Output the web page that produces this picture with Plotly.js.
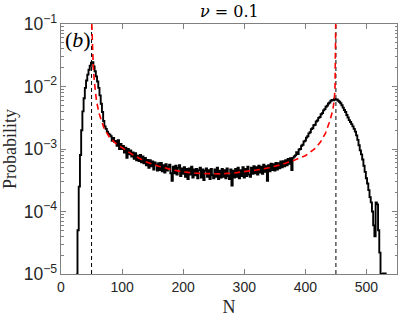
<!DOCTYPE html>
<html>
<head>
<meta charset="utf-8">
<script src="https://cdn.plot.ly/plotly-3.0.1.min.js"></script>
<style>html,body{margin:0;padding:0;background:#fff;}#chart{width:399px;height:319px;}</style>
</head>
<body>
<div id="chart"></div>
<script>
// Simulated histogram (black), N at odd values
const histN = [];
for (let n = 25; n <= 523; n += 2) histN.push(n);
histN.push(527, 533);
const histP = [
 1e-5, 5e-5, 2.5e-4, 8e-4, 2e-3, 4e-3, 6.5e-3, 9.5e-3, 1.25e-2, 1.55e-2,
 1.85e-2, 2.15e-2, 2.4e-2, 2.45e-2, 2.1e-2, 1.75e-2, 1.45e-2, 1.2e-2, 9.5e-3, 7.2e-3,
 5.3e-3, 3.9e-3, 2.8e-3, 2.3e-3, 2.1e-3, 1.9e-3, 1.75e-3, 1.7e-3,
 1.6e-3, 1.35e-3, 1.5e-3, 1.3e-3, 1.35e-3, 1.12e-3, 1.38e-3, 1.0e-3, 1.2e-3, 1.0e-3,
 1.12e-3, 8.8e-4, 1.05e-3, 7.2e-4, 1.0e-3, 8.2e-4, 9.5e-4, 7.6e-4, 8.8e-4, 7.0e-4,
 8.6e-4, 6.6e-4, 7.8e-4, 6.4e-4, 8.0e-4, 6.1e-4, 7.6e-4, 5.9e-4, 7.2e-4, 5.5e-4,
 6.7e-4, 5.0e-4, 6.6e-4, 5.3e-4, 6.3e-4, 4.7e-4, 6.1e-4, 5.6e-4, 4.5e-4, 5.9e-4,
 4.6e-4, 6.0e-4, 4.4e-4, 5.5e-4, 4.2e-4, 5.7e-4, 4.5e-4, 5.2e-4, 5.6e-4, 4.1e-4,
 3.1e-4, 5.2e-4, 4.1e-4, 5.4e-4, 3.9e-4, 5.0e-4, 5.5e-4, 3.7e-4, 4.9e-4, 4.0e-4,
 5.1e-4, 3.6e-4, 4.8e-4, 3.3e-4, 4.9e-4, 3.9e-4, 5.2e-4, 3.5e-4, 4.7e-4, 3.8e-4,
 4.8e-4, 3.4e-4, 4.6e-4, 5.0e-4, 3.5e-4, 4.7e-4, 3.2e-4, 4.5e-4, 4.9e-4, 3.6e-4,
 4.6e-4, 3.3e-4, 4.8e-4, 3.8e-4, 3.4e-4, 4.7e-4, 3.6e-4, 5.0e-4, 3.3e-4, 4.5e-4,
 3.5e-4, 4.8e-4, 3.6e-4, 4.6e-4, 3.4e-4, 4.9e-4, 3.7e-4, 3.3e-4, 4.7e-4, 2.6e-4,
 4.5e-4, 3.5e-4, 4.8e-4, 3.6e-4, 5.0e-4, 3.4e-4, 4.6e-4, 3.7e-4, 5.1e-4, 3.5e-4,
 4.8e-4, 3.7e-4, 5.2e-4, 3.9e-4, 3.6e-4, 5.0e-4, 4.0e-4, 5.3e-4, 4.1e-4, 5.1e-4,
 3.9e-4, 5.4e-4, 4.2e-4, 5.2e-4, 4.0e-4, 5.6e-4, 4.3e-4, 5.3e-4, 3.1e-4, 5.5e-4,
 4.4e-4, 5.8e-4, 4.6e-4, 5.7e-4, 4.5e-4, 6.0e-4, 4.7e-4, 5.9e-4, 4.9e-4, 6.3e-4,
 5.1e-4, 6.4e-4, 5.3e-4, 6.6e-4, 5.5e-4, 6.9e-4, 5.8e-4, 7.1e-4, 4.6e-4, 7.2e-4,
 7.6e-4, 7.9e-4, 8.9e-4, 8.3e-4, 9.8e-4, 1.0e-3, 1.13e-3, 1.17e-3, 1.32e-3, 1.36e-3,
 1.52e-3, 1.6e-3, 1.78e-3, 1.85e-3, 2.08e-3, 2.15e-3, 2.4e-3, 2.45e-3, 2.75e-3, 2.85e-3,
 3.15e-3, 3.25e-3, 3.6e-3, 3.75e-3, 4.15e-3, 4.35e-3, 4.75e-3, 4.95e-3, 5.35e-3, 5.55e-3,
 5.9e-3, 6.1e-3, 6.0e-3, 6.3e-3, 6.1e-3, 6.2e-3, 5.9e-3, 5.7e-3, 5.4e-3, 5.0e-3,
 4.6e-3, 4.2e-3, 3.9e-3, 3.5e-3, 3.2e-3, 2.9e-3, 2.7e-3, 2.5e-3, 2.3e-3, 2.1e-3,
 1.9e-3, 1.65e-3, 1.4e-3, 1.15e-3, 9.5e-4, 8.2e-4, 6.8e-4, 5.4e-4, 4.3e-4, 3.4e-4,
 2.8e-4, 2.2e-4, 1.7e-4, 1.4e-4, 1.0e-4, 6e-5, 4e-5, 1.4e-4, 1.3e-4, 5e-5,
 2.2e-5, 1.0e-5, 1.02e-5, 1.02e-5
];

// Theoretical curve (red dashed)
const theoryN = [50.4, 51, 52, 53, 55, 58, 62, 66, 70, 80, 90, 100, 120, 140, 160, 180, 200, 220, 240, 260, 280, 300, 320, 340, 360, 380, 400, 415, 425, 433, 440, 445, 447, 448.5, 449.3, 449.7];
const theoryP = [0.1, 0.06, 0.03, 0.019, 0.011, 0.006, 0.0038, 0.0028, 0.0022, 0.0015, 0.00122, 0.00105, 0.00078, 0.00062, 0.00053, 0.00047, 0.00043, 0.00041, 0.0004, 0.0004, 0.00041, 0.00043, 0.00046, 0.0005, 0.00056, 0.00065, 0.00078, 0.001, 0.0013, 0.0018, 0.0028, 0.0042, 0.0058, 0.009, 0.02, 0.1];

// Boundaries (vertical dashed lines)
const boundaries = [50, 450];
const xTicks = [0, 100, 200, 300, 400, 500];

const traces = [
  {x: histN, y: histP, type: 'scatter', mode: 'lines', line: {color: '#000', width: 1.9, shape: 'hv'}, hoverinfo: 'skip'},
  {x: theoryN, y: theoryP, type: 'scatter', mode: 'lines', line: {color: '#ff0000', width: 1.6, dash: '6px,4px'}, hoverinfo: 'skip'}
];

const shapes = boundaries.map(b => ({type: 'line', xref: 'x', yref: 'paper', x0: b, x1: b, y0: 0, y1: 1, line: {color: '#000', width: 1, dash: '4px,3px'}, layer: 'below'}));

const layout = {
  width: 399, height: 319,
  margin: {l: 61, r: 2, t: 24, b: 45},
  paper_bgcolor: '#fff', plot_bgcolor: '#fff',
  showlegend: false,
  title: {text: '<i>ν</i> = 0.1', font: {family: 'DejaVu Serif, Liberation Serif, serif', size: 16, color: '#000'}, x: 0.575, xanchor: 'center', y: 0.963, yanchor: 'middle'},
  xaxis: {
    range: [0, 550], tickvals: xTicks, ticks: 'inside', ticklen: 5, tickcolor: '#808080',
    showline: true, linecolor: '#808080', linewidth: 1, mirror: 'ticks', showgrid: false, zeroline: false,
    tickfont: {family: 'Liberation Sans, Arial, sans-serif', size: 14, color: '#262626'},
    title: {text: 'N', font: {family: 'Liberation Serif, DejaVu Serif, serif', size: 18, color: '#262626'}, standoff: 6}
  },
  yaxis: {
    type: 'log', range: [-5, -1], dtick: 1, exponentformat: 'power', ticks: 'inside', ticklen: 5, tickcolor: '#808080',
    minor: {ticks: 'inside', ticklen: 2.5, tickcolor: '#808080', showgrid: false},
    showline: true, linecolor: '#808080', linewidth: 1, mirror: 'ticks', showgrid: false, zeroline: false,
    tickfont: {family: 'Liberation Sans, Arial, sans-serif', size: 14, color: '#262626'},
    title: {text: 'Probability', font: {family: 'Liberation Serif, DejaVu Serif, serif', size: 18, color: '#262626'}, standoff: 6}
  },
  shapes: shapes,
  annotations: [{text: '(<i>b</i>)', xref: 'paper', yref: 'paper', x: 0.005, y: 0.995, xanchor: 'left', yanchor: 'top', showarrow: false, font: {family: 'Liberation Serif, DejaVu Serif, serif', size: 22, color: '#000'}}]
};

Plotly.newPlot('chart', traces, layout, {staticPlot: true, displayModeBar: false});
</script>
</body>
</html>
